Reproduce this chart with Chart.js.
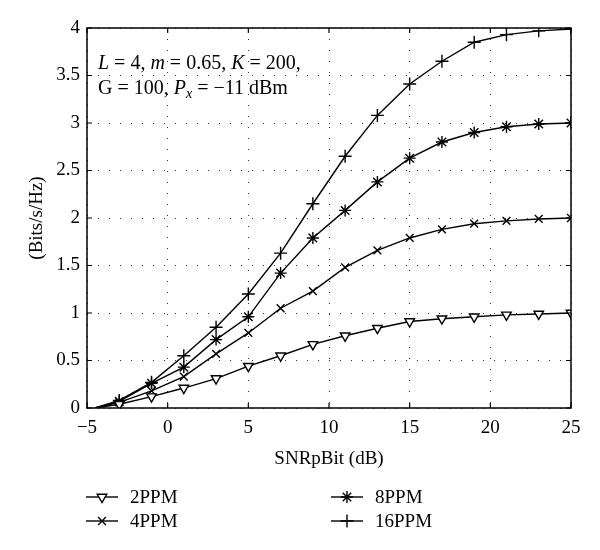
<!DOCTYPE html>
<html>
<head>
<meta charset="utf-8">
<script src="https://cdn.jsdelivr.net/npm/chart.js@4.4.0/dist/chart.umd.min.js"></script>
<style>
  html, body { margin: 0; padding: 0; background: #fff; }
  #wrap { width: 600px; height: 550px; }
</style>
</head>
<body>
<div id="wrap"><canvas id="chart" width="600" height="550"></canvas></div>
<script>
// SNR per bit (dB) sample points
const snr = [-4.5, -3, -1, 1, 3, 5, 7, 9, 11, 13, 15, 17, 19, 21, 23, 25];

// spectral efficiency (Bits/s/Hz) per modulation order
const ppm2  = [0, 0.04, 0.12, 0.21, 0.31, 0.44, 0.55, 0.67, 0.76, 0.84, 0.91, 0.94, 0.96, 0.98, 0.99, 1.00];
const ppm4  = [0, 0.06, 0.18, 0.33, 0.57, 0.79, 1.05, 1.23, 1.48, 1.66, 1.79, 1.88, 1.94, 1.97, 1.99, 2.00];
const ppm8  = [0, 0.07, 0.26, 0.43, 0.72, 0.96, 1.42, 1.79, 2.08, 2.38, 2.63, 2.80, 2.90, 2.96, 2.99, 3.00];
const ppm16 = [0, 0.08, 0.27, 0.55, 0.85, 1.20, 1.63, 2.15, 2.65, 3.08, 3.41, 3.65, 3.85, 3.93, 3.97, 3.99];

const seriesNames = ['2PPM', '4PPM', '8PPM', '16PPM'];
const xTicks = [-5, 0, 5, 10, 15, 20, 25];
const yTicks = [0, 0.5, 1, 1.5, 2, 2.5, 3, 3.5, 4];

const FONT = '"Liberation Serif", "DejaVu Serif", serif';

function toPoints(ys) {
  return snr.map((x, i) => ({ x: x, y: ys[i] }));
}

const markerStyles = [
  { pointStyle: 'triangle', rotation: 180, backgroundColor: '#fff', radius: 5.5 },
  { pointStyle: 'crossRot', rotation: 0, backgroundColor: '#000', radius: 5.5 },
  { pointStyle: 'star', rotation: 0, backgroundColor: '#000', radius: 6 },
  { pointStyle: 'cross', rotation: 0, backgroundColor: '#000', radius: 6.5 }
];

const datasets = [ppm2, ppm4, ppm8, ppm16].map((ys, i) => ({
  label: seriesNames[i],
  data: toPoints(ys),
  borderColor: '#000',
  borderWidth: 1.4,
  backgroundColor: markerStyles[i].backgroundColor,
  pointStyle: markerStyles[i].pointStyle,
  pointRotation: markerStyles[i].rotation,
  pointRadius: ctx => ctx.dataIndex === 0 ? 0 : markerStyles[i].radius,
  pointBorderColor: '#000',
  pointBorderWidth: 1.4,
  pointBackgroundColor: markerStyles[i].backgroundColor,
  tension: 0,
  fill: false
}));

// legend slots: two columns, two rows
const legendSlots = [
  { x: 86, y: 497 }, { x: 86, y: 521 },
  { x: 331, y: 497 }, { x: 331, y: 521 }
];

const decor = {
  id: 'decor',
  afterDraw(chart) {
    const ctx = chart.ctx;
    const a = chart.chartArea;
    const xs = chart.scales.x, ys = chart.scales.y;
    ctx.save();
    // box
    ctx.strokeStyle = '#000';
    ctx.lineWidth = 1.5;
    ctx.strokeRect(a.left, a.top, a.right - a.left, a.bottom - a.top);
    // inward ticks
    ctx.lineWidth = 1.2;
    ctx.beginPath();
    xTicks.forEach(v => {
      const px = xs.getPixelForValue(v);
      ctx.moveTo(px, a.bottom); ctx.lineTo(px, a.bottom - 5);
      ctx.moveTo(px, a.top); ctx.lineTo(px, a.top + 5);
    });
    yTicks.forEach(v => {
      const py = ys.getPixelForValue(v);
      ctx.moveTo(a.left, py); ctx.lineTo(a.left + 5, py);
      ctx.moveTo(a.right, py); ctx.lineTo(a.right - 5, py);
    });
    ctx.stroke();

    // annotation
    ctx.fillStyle = '#000';
    ctx.textBaseline = 'alphabetic';
    const normal = '20px ' + FONT, ital = 'italic 20px ' + FONT, sub = 'italic 14px ' + FONT;
    const lines = [
      { y: 69, parts: [['L', ital], [' = 4, ', normal], ['m', ital], [' = 0.65, ', normal], ['K', ital], [' = 200,', normal]] },
      { y: 94, parts: [['G = 100, ', normal], ['P', ital], ['x', sub, 4], [' = \u221211 dBm', normal]] }
    ];
    lines.forEach(line => {
      let x = 98;
      line.parts.forEach(p => {
        ctx.font = p[1];
        ctx.fillText(p[0], x, line.y + (p[2] || 0));
        x += ctx.measureText(p[0]).width;
      });
    });

    // legend
    chart.data.datasets.forEach((ds, i) => {
      const s = legendSlots[i];
      ctx.strokeStyle = '#000';
      ctx.lineWidth = 1.4;
      ctx.beginPath();
      ctx.moveTo(s.x, s.y); ctx.lineTo(s.x + 32, s.y);
      ctx.stroke();
      ctx.fillStyle = markerStyles[i].backgroundColor;
      Chart.helpers.drawPoint(ctx, {
        pointStyle: markerStyles[i].pointStyle,
        rotation: markerStyles[i].rotation,
        radius: markerStyles[i].radius,
        borderWidth: 1.4
      }, s.x + 16, s.y);
      ctx.fillStyle = '#000';
      ctx.font = '19px ' + FONT;
      ctx.textBaseline = 'middle';
      ctx.fillText(ds.label, s.x + 44, s.y + 1);
    });
    ctx.restore();
  }
};

new Chart(document.getElementById('chart'), {
  type: 'line',
  data: { datasets: datasets },
  options: {
    responsive: false,
    animation: false,
    layout: { padding: { left: 0, top: 28, right: 29, bottom: 80 } },
    plugins: { legend: { display: false }, tooltip: { enabled: false } },
    scales: {
      x: {
        type: 'linear',
        min: -5, max: 25,
        afterBuildTicks: s => { s.ticks = xTicks.map(v => ({ value: v })); },
        afterFit: s => { s.height = 62; },
        ticks: {
          color: '#000',
          padding: 9,
          font: { family: FONT, size: 19 },
          callback: v => String(v).replace('-', '\u2212')
        },
        grid: { color: '#333', lineWidth: 1, drawTicks: false },
        border: { display: false, dash: [1, 10] },
        title: {
          display: true, text: 'SNRpBit (dB)', color: '#000',
          font: { family: FONT, size: 19 }, padding: { top: 0, bottom: 0 }
        }
      },
      y: {
        min: 0, max: 4,
        afterBuildTicks: s => { s.ticks = yTicks.map(v => ({ value: v })); },
        afterFit: s => { s.width = 87; },
        ticks: {
          color: '#000',
          padding: 7,
          font: { family: FONT, size: 19 },
          callback: v => String(v)
        },
        grid: { color: '#333', lineWidth: 1, drawTicks: false },
        border: { display: false, dash: [1, 10] },
        title: {
          display: true, text: '(Bits/s/Hz)', color: '#000',
          font: { family: FONT, size: 19 }, padding: { top: 26, bottom: 0 }
        }
      }
    }
  },
  plugins: [decor]
});
</script>
</body>
</html>
